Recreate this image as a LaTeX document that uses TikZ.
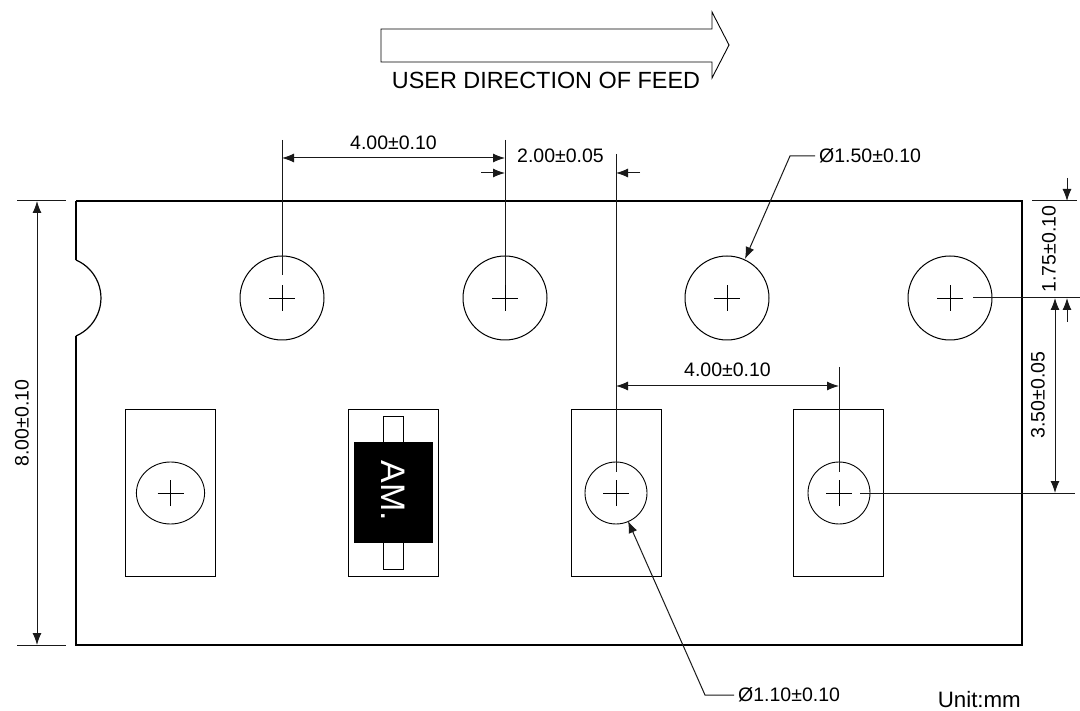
\documentclass[tikz,border=0pt]{standalone}
\usepackage{fontspec}
\setmainfont{Liberation Sans}
\usetikzlibrary{arrows.meta}
\tikzset{
  part/.style={draw=black,line width=1.2pt},
  thin part/.style={draw=black,line width=0.9pt},
  dim/.style={draw=black!90,line width=1pt},
  tipend/.style={-{Latex[length=12pt,width=9pt]}},
  tipboth/.style={{Latex[length=12pt,width=9pt]}-{Latex[length=12pt,width=9pt]}},
  lbl/.style={inner sep=0pt,font=\fontsize{19.5}{20}\selectfont},
  lblv/.style={lbl,rotate=90},
  hole/.style={circle,draw=black,line width=1pt,inner sep=0pt,minimum size=84pt},
  pin/.style={circle,draw=black,line width=0.9pt,inner sep=0pt,minimum size=62pt},
  pocket/.style={rectangle,draw=black,line width=0.9pt,inner sep=0pt,minimum width=90pt,minimum height=167pt},
}
\newcommand{\crossmark}[1]{\draw[line width=0.9pt] ([xshift=-13pt]#1.center) -- ([xshift=13pt]#1.center) ([yshift=-13pt]#1.center) -- ([yshift=13pt]#1.center);}
\begin{document}
\begin{tikzpicture}[x=1pt,y=-1pt]
\useasboundingbox (0,0) rectangle (1080,711);
\fill[white] (0,0) rectangle (1080,711);

% feed arrow
\draw[thin part] (381,29) -- (712,29) -- (712,12) -- (729,45) -- (712,78) -- (712,62) -- (381,62) -- cycle;
\node[inner sep=0pt,font=\fontsize{23.4}{24}\selectfont] (feed) at (546,80.5) {USER DIRECTION OF FEED};

% tape outline with notch
\draw[part] (76,201) -- (1022,201) -- (1022,645) -- (76,645) -- (76,336);
\draw[part] (76,260) -- (76,201);
\draw[part] (76,260) arc[start angle=66.6,end angle=-66.6,radius=41.4pt];

% sprocket holes
\node[hole] (h1) at (282,298) {};
\node[hole] (h2) at (505,298) {};
\node[hole] (h3) at (727,298) {};
\node[hole] (h4) at (950,298) {};
\crossmark{h1}\crossmark{h2}\crossmark{h3}\crossmark{h4}

% pockets
\node[pocket] (p1) at (170.5,492.5) {};
\node[pocket] (p2) at (393.5,492.5) {};
\node[pocket] (p3) at (616,492.5) {};
\node[pocket] (p4) at (838.5,492.5) {};
\node[circle,draw=black,line width=0.9pt,inner sep=0pt,minimum size=62pt,xscale=1.1] (c1) at (170.5,493) {};
\node[pin] (c3) at (616,493) {};
\node[pin] (c4) at (839,493) {};
\crossmark{c1}\crossmark{c3}\crossmark{c4}

% component
\draw[thin part] (383,416) rectangle (403,569);
\fill[black] (354,442) rectangle (433,543);
\node[inner sep=0pt,text=white,rotate=-90,font=\fontsize{34}{34}\selectfont] (am) at (393,491) {AM.};

% named points
\coordinate (t1) at (282,140); \coordinate (b1) at (282,275);
\coordinate (t2) at (505,140); \coordinate (b2) at (505,285);
\coordinate (t3) at (616,154); \coordinate (b3) at (616,472);
\coordinate (t4) at (839,367); \coordinate (b4) at (839,472);

% extension lines
\draw[dim] (t1) -- (b1);
\draw[dim] (t2) -- (b2);
\draw[dim] (t3) -- (b3);
\draw[dim] (t4) -- (b4);
\draw[dim] (17,201) -- (66,201);
\draw[dim] (17,645) -- (66,645);
\draw[dim] (1032,201) -- (1077,201);
\draw[dim] (973,298) -- (1080,298);
\draw[dim] (860,493) -- (1075,493);

% 4.00 top
\draw[dim,tipboth] (282,158) -- (505,158);
\node[lbl] (d1) at (393.5,143) {4.00±0.10};
% 2.00
\draw[dim,tipend] (481,173) -- (505,173);
\draw[dim,tipend] (640,173) -- (616,173);
\node[lbl] (d2) at (560.5,156) {2.00±0.05};
% 4.00 lower
\draw[dim,tipboth] (616,386) -- (839,386);
\node[lbl] (d3) at (727.5,370) {4.00±0.10};
% 8.00
\draw[dim,tipboth] (37,201) -- (37,645);
\node[lblv] (d4) at (22,423) {8.00±0.10};
% 1.75
\draw[dim,tipend] (1067,178) -- (1067,201);
\draw[dim,tipend] (1067,322) -- (1067,298);
\node[lblv] (d5) at (1049,249) {1.75±0.10};
% 3.50
\draw[dim,tipboth] (1055,298) -- (1055,493);
\node[lblv] (d6) at (1038,395) {3.50±0.05};
% leaders
\node[lbl,anchor=west] (d7) at (819,156) {Ø1.50±0.10};
\draw[dim,tipend] (d7.west) ++(-4,0) -- (790,156) -- (745,259);
\node[lbl,anchor=west] (d8) at (738,695) {Ø1.10±0.10};
\draw[dim,tipend] (d8.west) ++(-4,0) -- (705,695) -- (628,521);
\node[inner sep=0pt,anchor=east,font=\fontsize{22.3}{23}\selectfont] (unit) at (1021,700) {Unit:mm};
\end{tikzpicture}
\end{document}
